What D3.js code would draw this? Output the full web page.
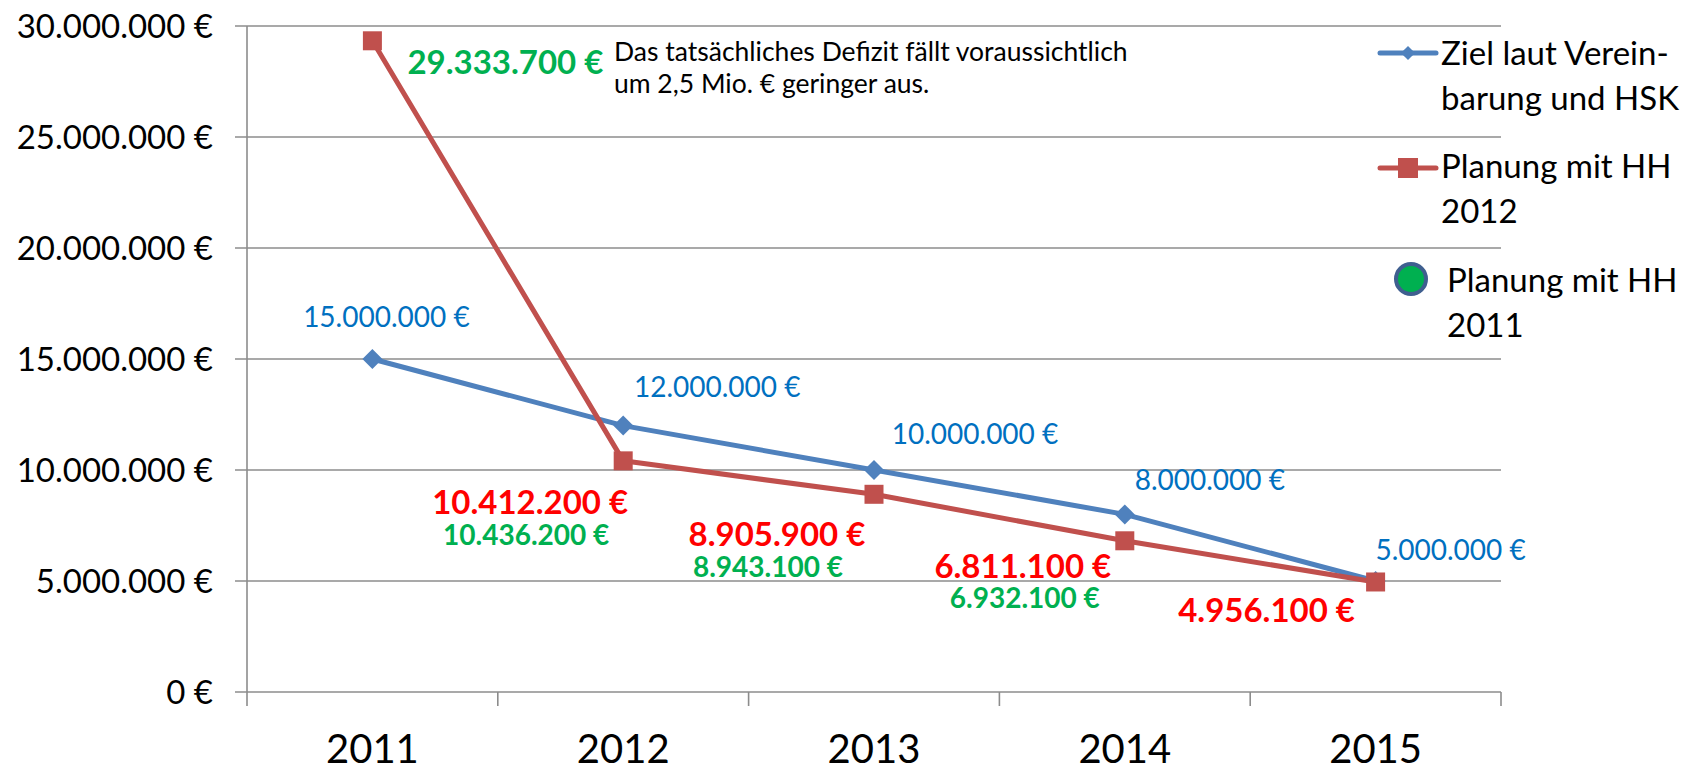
<!DOCTYPE html>
<html>
<head>
<meta charset="utf-8">
<script src="https://cdn.jsdelivr.net/npm/d3@7"></script>
<style>
  html, body { margin: 0; padding: 0; background: #fff; }
  svg { display: block; font-family: Lato, "Open Sans", sans-serif; }
</style>
</head>
<body>
<svg id="chart" width="1698" height="772"></svg>
<script>
// categories and series
const years = ['2011', '2012', '2013', '2014', '2015'];
const ziel = [15000000, 12000000, 10000000, 8000000, 5000000];
const planung2012 = [29333700, 10412200, 8905900, 6811100, 4956100];
const planung2011 = [29333700, 10436200, 8943100, 6932100, null];
const yTicks = [0, 5000000, 10000000, 15000000, 20000000, 25000000, 30000000];

const seriesNames = ['Ziel laut Verein-|barung und HSK', 'Planung mit HH|2012', 'Planung mit HH|2011'];
const note = ['Das tatsächliches Defizit fällt voraussichtlich', 'um 2,5 Mio. € geringer aus.'];

// label offsets (placed by hand in the original)
const zielLabelOff = [[14, -42], [94, -39], [101, -36], [85, -34], [75, -31]];
const red12LabelOff = [null, [-93, 41], [-97, 40], [-102, 25], [-109, 28]];
const green11LabelOff = [[133, 21], [-97, 75], [-106, 73], [-100, 60], null];

const blue = '#4F81BD', red = '#C0504D', grid = '#8c8c8c';

const fmt = v => d3.format(',')(v).replace(/,/g, '.') + ' €';

const svg = d3.select('#chart');

const x = d3.scaleBand().domain(years).range([247, 1501]).padding(0);
const y = d3.scaleLinear().domain([0, 30000000]).range([692, 26]);
const cx = d => x(d) + x.bandwidth() / 2;

// gridlines
svg.append('g')
  .selectAll('line')
  .data(yTicks)
  .enter()
  .append('line')
  .attr('x1', 235).attr('x2', 1501)
  .attr('y1', d => y(d)).attr('y2', d => y(d))
  .attr('stroke', grid)
  .attr('stroke-width', 1.6);

// y axis line
svg.append('line')
  .attr('x1', 247).attr('x2', 247)
  .attr('y1', y(30000000)).attr('y2', 706)
  .attr('stroke', grid).attr('stroke-width', 1.6);

// x ticks at band edges
const edges = years.map(d => x(d)).concat([x(years[years.length - 1]) + x.bandwidth()]);
svg.append('g')
  .selectAll('line')
  .data(edges.slice(1))
  .enter()
  .append('line')
  .attr('x1', d => d).attr('x2', d => d)
  .attr('y1', 692).attr('y2', 706)
  .attr('stroke', grid).attr('stroke-width', 1.6);

// y labels
svg.append('g')
  .selectAll('text')
  .data(yTicks)
  .enter()
  .append('text')
  .attr('x', 213)
  .attr('y', d => y(d))
  .attr('dy', '0.36em')
  .attr('text-anchor', 'end')
  .attr('font-size', 33)
  .attr('fill', '#000')
  .text(d => fmt(d));

// x labels
svg.append('g')
  .selectAll('text')
  .data(years)
  .enter()
  .append('text')
  .attr('x', d => cx(d))
  .attr('y', 763)
  .attr('text-anchor', 'middle')
  .attr('font-size', 40)
  .attr('fill', '#000')
  .text(d => d);

// lines
const line = d3.line().x((d, i) => cx(years[i])).y(d => y(d));

svg.append('path')
  .datum(ziel)
  .attr('d', line)
  .attr('fill', 'none')
  .attr('stroke', blue)
  .attr('stroke-width', 5)
  .attr('stroke-linejoin', 'round');

svg.append('path')
  .datum(planung2012)
  .attr('d', line)
  .attr('fill', 'none')
  .attr('stroke', red)
  .attr('stroke-width', 5)
  .attr('stroke-linejoin', 'round');

// markers
svg.append('g')
  .selectAll('path')
  .data(ziel)
  .enter()
  .append('path')
  .attr('d', d3.symbol(d3.symbolSquare, 200))
  .attr('transform', (d, i) => `translate(${cx(years[i])},${y(d)}) rotate(45)`)
  .attr('fill', blue);

svg.append('g')
  .selectAll('rect')
  .data(planung2012)
  .enter()
  .append('rect')
  .attr('x', (d, i) => cx(years[i]) - 9.5)
  .attr('y', d => y(d) - 9.5)
  .attr('width', 19).attr('height', 19)
  .attr('fill', red);

// data labels
function labels(values, offs, color, size, weight) {
  svg.append('g')
    .selectAll('text')
    .data(values.map((v, i) => ({ v, i, o: offs[i] })).filter(d => d.v != null && d.o))
    .enter()
    .append('text')
    .attr('x', d => cx(years[d.i]) + d.o[0])
    .attr('y', d => y(d.v) + d.o[1])
    .attr('dy', '0.36em')
    .attr('text-anchor', 'middle')
    .attr('font-size', d => (typeof size === 'function' ? size(d) : size))
    .attr('font-weight', weight)
    .attr('fill', color)
    .text(d => fmt(d.v));
}
labels(ziel, zielLabelOff, '#0070C0', 28, 'normal');
labels(planung2012, red12LabelOff, '#FF0000', 33, 'bold');
labels(planung2011, green11LabelOff, '#00B050', d => (d.i === 0 ? 33 : 28), 'bold');

// note
svg.append('text')
  .attr('font-size', 26.5)
  .attr('fill', '#000')
  .selectAll('tspan')
  .data(note)
  .enter()
  .append('tspan')
  .attr('x', 614)
  .attr('y', (d, i) => 61 + i * 32)
  .text(d => d);

// legend
const leg = svg.append('g');
const legY = [53, 168, 279];

leg.append('line').attr('x1', 1380).attr('x2', 1436).attr('y1', legY[0]).attr('y2', legY[0])
  .attr('stroke', blue).attr('stroke-width', 5).attr('stroke-linecap', 'round');
leg.append('path').attr('d', d3.symbol(d3.symbolSquare, 100))
  .attr('transform', `translate(1408,${legY[0]}) rotate(45)`).attr('fill', blue);

leg.append('line').attr('x1', 1380).attr('x2', 1436).attr('y1', legY[1]).attr('y2', legY[1])
  .attr('stroke', red).attr('stroke-width', 5).attr('stroke-linecap', 'round');
leg.append('rect').attr('x', 1398).attr('y', legY[1] - 10).attr('width', 20).attr('height', 20)
  .attr('fill', red);

leg.append('circle').attr('cx', 1411).attr('cy', legY[2]).attr('r', 15)
  .attr('fill', '#00B050').attr('stroke', '#3F5F8F').attr('stroke-width', 4);

const legTextX = [1441, 1441, 1447];
const legBase = [65, 178, 292];
seriesNames.forEach((name, k) => {
  leg.append('text')
    .attr('font-size', 33)
    .attr('fill', '#000')
    .selectAll('tspan')
    .data(name.split('|'))
    .enter()
    .append('tspan')
    .attr('x', legTextX[k])
    .attr('y', (d, i) => legBase[k] + i * 45)
    .text(d => d);
});
</script>
</body>
</html>
